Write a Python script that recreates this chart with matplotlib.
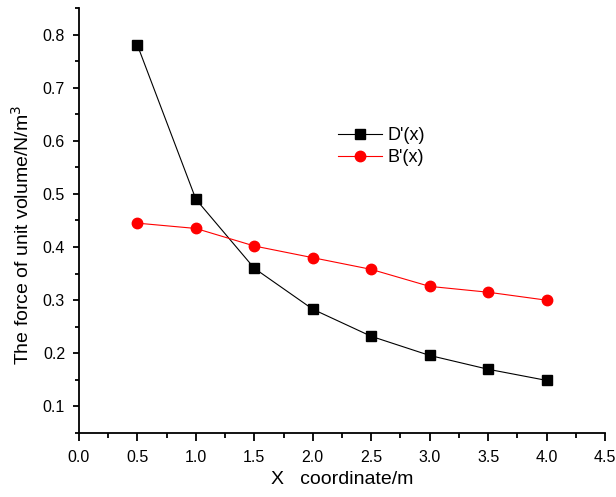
import matplotlib
matplotlib.use("Agg")
import matplotlib.pyplot as plt
from matplotlib.ticker import MultipleLocator

plt.rcParams['font.family'] = ['Liberation Sans', 'DejaVu Sans']

x = [0.5, 1.0, 1.5, 2.0, 2.5, 3.0, 3.5, 4.0]
d_vals = [0.780, 0.490, 0.360, 0.283, 0.232, 0.196, 0.170, 0.149]
b_vals = [0.445, 0.435, 0.402, 0.380, 0.358, 0.326, 0.315, 0.300]

fig = plt.figure(figsize=(6.16, 4.97), dpi=100)
ax = fig.add_axes([79/616, 64/497, 526/616, 425/497])

ax.plot(x, d_vals, color='black', lw=0.8, marker='s', ms=6.5, label="D'(x)")
ax.plot(x, b_vals, color='red', lw=0.8, marker='o', ms=7.5, label="B'(x)")

ax.set_xlim(0, 4.5)
ax.set_ylim(0.05, 0.85)
ax.xaxis.set_major_locator(MultipleLocator(0.5))
ax.xaxis.set_minor_locator(MultipleLocator(0.25))
ax.yaxis.set_minor_locator(MultipleLocator(0.05))
ax.set_yticks([0.1, 0.2, 0.3, 0.4, 0.5, 0.6, 0.7, 0.8])
ax.xaxis.set_major_formatter(plt.FormatStrFormatter('%.1f'))
ax.yaxis.set_major_formatter(plt.FormatStrFormatter('%.1f'))

for s in ['top', 'right']:
    ax.spines[s].set_visible(False)
for s in ['left', 'bottom']:
    ax.spines[s].set_linewidth(1.3)
ax.tick_params(axis='x', which='major', direction='out', length=6, width=1.3, labelsize=11.5, pad=6)
ax.tick_params(axis='x', which='minor', direction='out', length=3.5, width=1.3)
ax.tick_params(axis='y', which='major', direction='out', length=4, width=1.3, labelsize=11.5, pad=6)
ax.tick_params(axis='y', which='minor', direction='out', length=3, width=1.3)

ax.set_xlabel('X   coordinate/m', fontsize=14)
ax.set_ylabel('The force of unit volume/N/m$^3$', fontsize=14)
ax.xaxis.set_label_coords(0.5, -0.09)
ax.yaxis.set_label_coords(-0.088, 0.467)

ax.legend(loc='upper left', bbox_to_anchor=(0.492, 0.72), frameon=False,
          fontsize=13, handlelength=2.45, labelspacing=0.3, handletextpad=0.33,
          borderpad=0, borderaxespad=0)

fig.savefig('out.png', dpi=100)
